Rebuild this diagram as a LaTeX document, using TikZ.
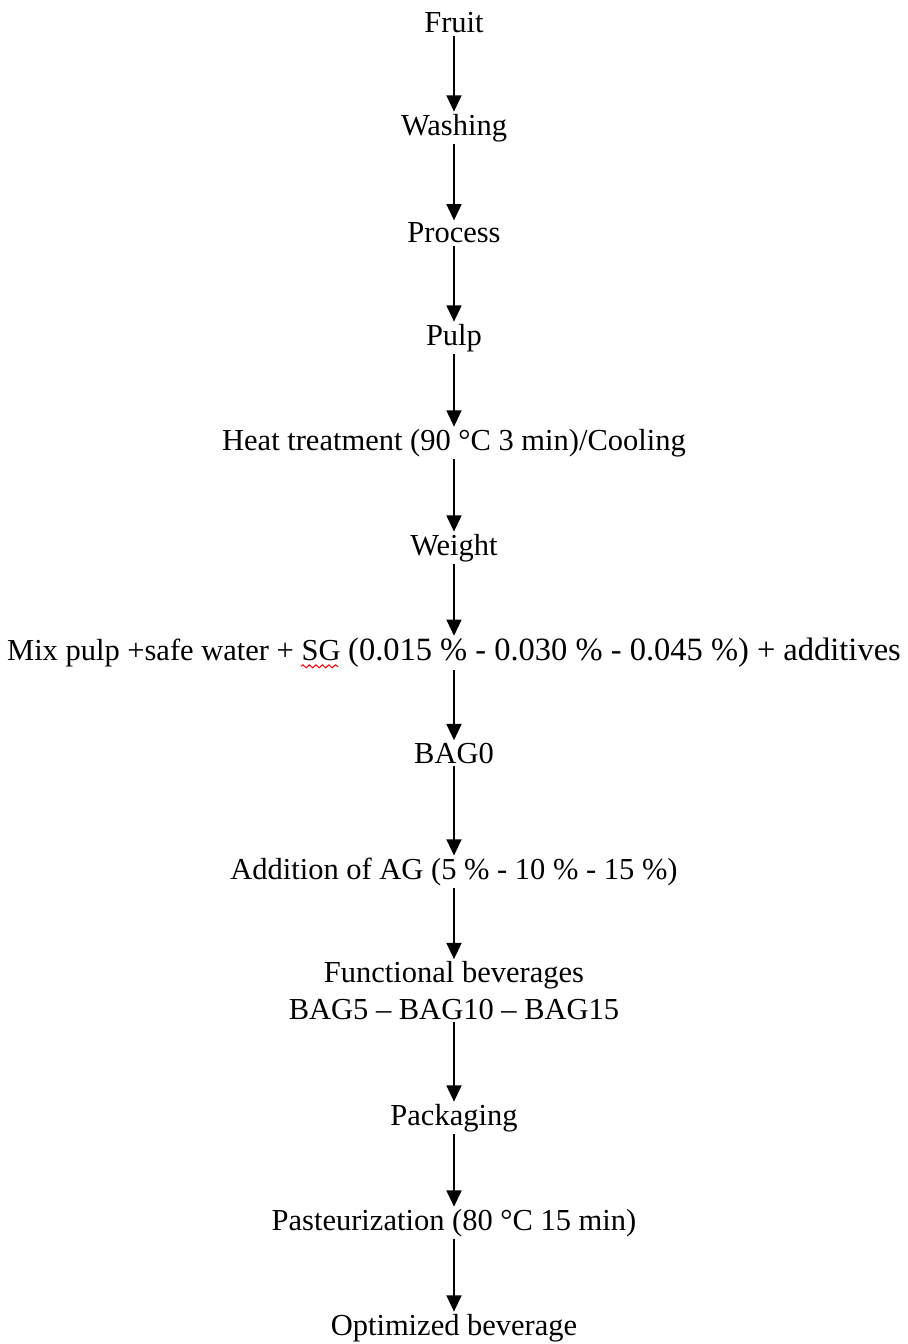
\documentclass[tikz,border=0pt]{standalone}
\usepackage{fontspec}
\setmainfont{Liberation Serif}
\usetikzlibrary{arrows.meta,decorations.pathmorphing}

\begin{document}
\begin{tikzpicture}[
    > = {Triangle[width=6pt,length=6.5pt]}, % arrow head style
    line width = 0.7pt, % line style
    node distance = 42pt, % distance between nodes
    stage node/.style={inner sep=1pt,outer sep=0pt,align=center,font=\fontsize{12.2pt}{14.5pt}\selectfont},
    spell wave/.style={draw=red,line width=0.4pt,decorate,decoration={snake,amplitude=0.6pt,segment length=2.6pt}}
  ]
  \useasboundingbox (-181.6pt,9.2pt) rectangle (181.6pt,-528.4pt);

  % Nodes
  \node[stage node] (fruit) {Fruit};
  \node[stage node] (washing) [below of=fruit] {Washing};
  \node[stage node] (process) [below of=washing] {Process};
  \node[stage node] (pulp) [below of=process] {Pulp};
  \node[stage node] (heat) [below of=pulp] {Heat treatment (90 °C 3 min)/Cooling};
  \node[stage node] (weight) [below of=heat] {Weight};
  \node[stage node] (mix) [below of=weight] {Mix pulp +safe water + SG {\fontsize{13pt}{15pt}\selectfont(0.015 \% - 0.030 \% - 0.045 \%) + additives}};
  \node[stage node] (bag0) [below of=mix, node distance=40pt] {BAG0};
  \node[stage node] (addition) [below of=bag0, node distance=47.6pt] {Addition of AG (5 \% - 10 \% - 15 \%)};
  \node[stage node] (functional) [below of=addition, node distance=47.4pt] {Functional beverages\\BAG5 – BAG10 – BAG15};
  \node[stage node] (packaging) [below of=functional, node distance=51pt] {Packaging};
  \node[stage node] (pasteur) [below of=packaging] {Pasteurization (80 °C 15 min)};
  \node[stage node] (optimized) [below of=pasteur] {Optimized beverage};

  % wavy mark under SG
  \draw[spell wave] ([xshift=118.5pt,yshift=-2.2pt]mix.base west) -- +(15pt,0);

  % Edges
  \path
    (fruit) edge[->] (washing)
    (washing) edge[->] (process)
    (process) edge[->] (pulp)
    (pulp) edge[->] (heat)
    (heat) edge[->] (weight)
    (weight) edge[->] (mix)
    (mix) edge[->] (bag0)
    (bag0) edge[->] (addition)
    (addition) edge[->] (functional)
    (functional) edge[->] (packaging)
    (packaging) edge[->] (pasteur)
    (pasteur) edge[->] (optimized);
\end{tikzpicture}
\end{document}
